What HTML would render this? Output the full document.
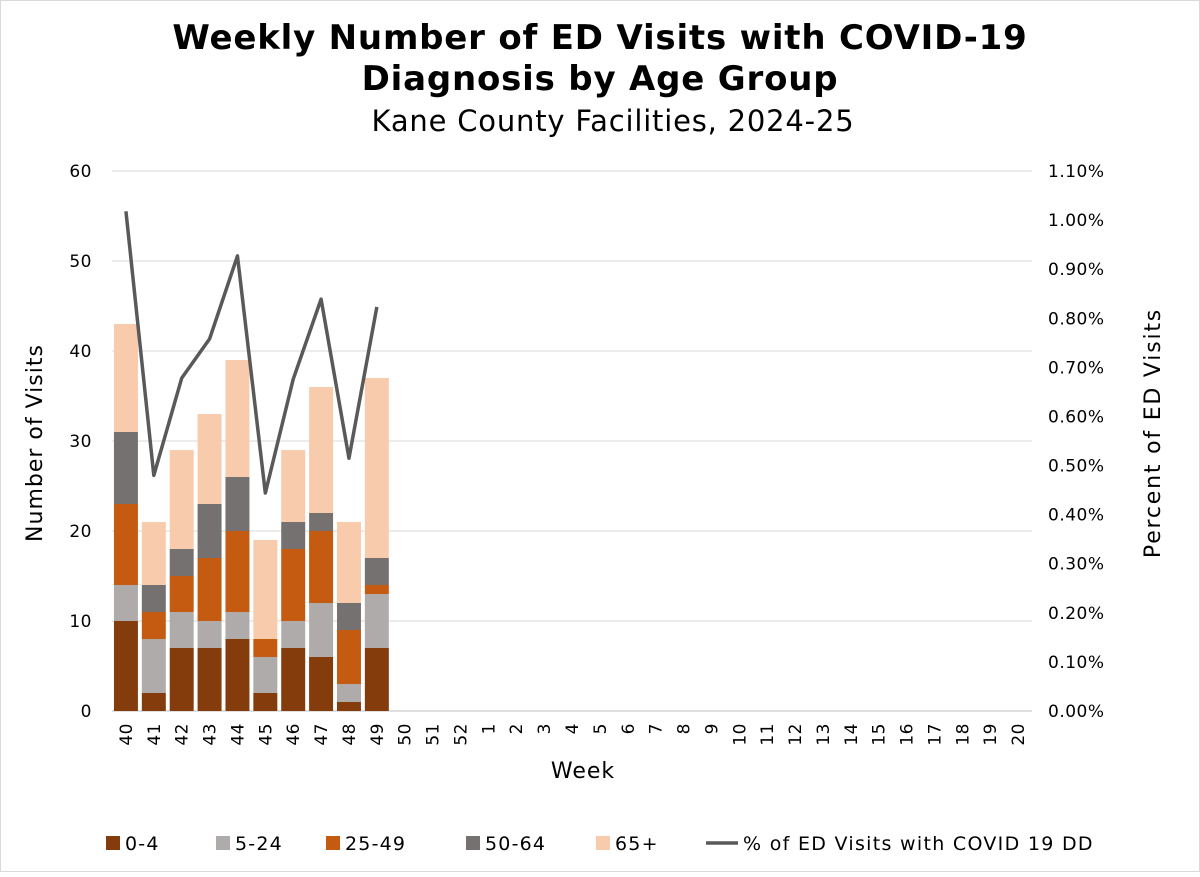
<!DOCTYPE html>
<html><head><meta charset="utf-8"><style>
body{margin:0;background:#fff}
svg text{font-family:"DejaVu Sans","Liberation Sans",sans-serif;fill:#000}
</style></head><body>
<svg id="chart" width="1200" height="872" viewBox="0 0 1200 872">
<rect x="0.5" y="0.5" width="1199" height="871" fill="#fff" stroke="#d9d9d9"/>
<text x="600" y="49" text-anchor="middle" font-size="34" font-weight="bold" letter-spacing="0.8">Weekly Number of ED Visits with COVID-19</text>
<text x="600" y="90" text-anchor="middle" font-size="34" font-weight="bold" letter-spacing="0.8">Diagnosis by Age Group</text>
<text x="613" y="131" text-anchor="middle" font-size="29" letter-spacing="0.8">Kane County Facilities, 2024-25</text>
<g id="grid"></g><g id="bars"></g><g id="line"></g><g id="axes"></g>
<text transform="translate(42,443) rotate(-90)" text-anchor="middle" font-size="22" letter-spacing="1">Number of Visits</text>
<text transform="translate(1160,433) rotate(-90)" text-anchor="middle" font-size="22" letter-spacing="1.8">Percent of ED Visits</text>
<text x="583" y="778" text-anchor="middle" font-size="22" letter-spacing="1">Week</text>
<g id="legend"></g>
</svg>
<script>
const categories=["40","41","42","43","44","45","46","47","48","49","50","51","52","1","2","3","4","5","6","7","8","9","10","11","12","13","14","15","16","17","18","19","20"];
const seriesNames=["0-4","5-24","25-49","50-64","65+"];
const s0_4=[10,2,7,7,8,2,7,6,1,7];
const s5_24=[4,6,4,3,3,4,3,6,2,6];
const s25_49=[9,3,4,7,9,2,8,8,6,1];
const s50_64=[8,3,3,6,6,0,3,2,3,3];
const s65=[12,7,11,10,13,11,8,14,9,20];
const pct=[1.018,0.48,0.678,0.758,0.927,0.444,0.676,0.839,0.515,0.823];
const yTicks=[0,10,20,30,40,50,60];
const y2Ticks=[0,0.1,0.2,0.3,0.4,0.5,0.6,0.7,0.8,0.9,1.0,1.1];
const colors=["#843c0c","#afabab","#c55a11","#767171","#f8cbad"];
const NS="http://www.w3.org/2000/svg";
const L=112,R=1032,T=171,B=711;
const step=(R-L)/categories.length;
const x=i=>L+step*(i+0.5);
const y=v=>B-(B-T)*v/60;
const y2=v=>B-(B-T)*v/1.1;
function mk(tag,attrs,parent){const e=document.createElementNS(NS,tag);for(const k in attrs)e.setAttribute(k,attrs[k]);document.getElementById(parent).appendChild(e);return e;}
yTicks.forEach(t=>{
 const g=mk("line",{x1:L,x2:R,y1:y(t),y2:y(t),stroke:t===0?"#bfbfbf":"#d9d9d9","stroke-width":1},"grid");
 
 
 const tx=mk("text",{x:L-20,y:y(t)+6,"text-anchor":"end","font-size":"17","letter-spacing":"0.5"},"axes");tx.textContent=t;
 
 
});
y2Ticks.forEach(t=>{
 const tx=mk("text",{x:1048,y:y2(t)+6,"font-size":"17","letter-spacing":"0.5"},"axes");tx.textContent=t.toFixed(2)+"%";
 
 
});
categories.forEach((c,i)=>{
 const tx=mk("text",{transform:`translate(${x(i)+6},${B+12}) rotate(-90)`,"text-anchor":"end","font-size":"17","letter-spacing":"0.5"},"axes");tx.textContent=c;
 
 
});
const series=[s0_4,s5_24,s25_49,s50_64,s65];
const bw=step*0.86;
for(let i=0;i<s0_4.length;i++){
 let base=0;
 series.forEach((s,k)=>{
  const v=s[i];
  const r=mk("rect",{x:x(i)-bw/2,y:y(base+v),width:bw,height:y(base)-y(base+v),fill:colors[k]},"bars");
  
  
  base+=v;
 });
}
const pl=mk("polyline",{points:pct.map((p,i)=>x(i)+","+y2(p)).join(" "),fill:"none",stroke:"#595959","stroke-width":3.5,"stroke-linejoin":"round"},"line");


const legX=[106,216,326,466,596];
seriesNames.forEach((n,k)=>{
 const r=mk("rect",{x:legX[k],y:836,width:14,height:14,fill:colors[k]},"legend");
 
 
 const t=mk("text",{x:legX[k]+19,y:850,"font-size":"19","letter-spacing":"1.2"},"legend");t.textContent=n;
 
 
});
const ll=mk("line",{x1:706,x2:738,y1:843,y2:843,stroke:"#595959","stroke-width":3.5},"legend");


const lt=mk("text",{x:743,y:850,"font-size":"19","letter-spacing":"1.3"},"legend");lt.textContent="% of ED Visits with COVID 19 DD";


</script>
</body></html>
